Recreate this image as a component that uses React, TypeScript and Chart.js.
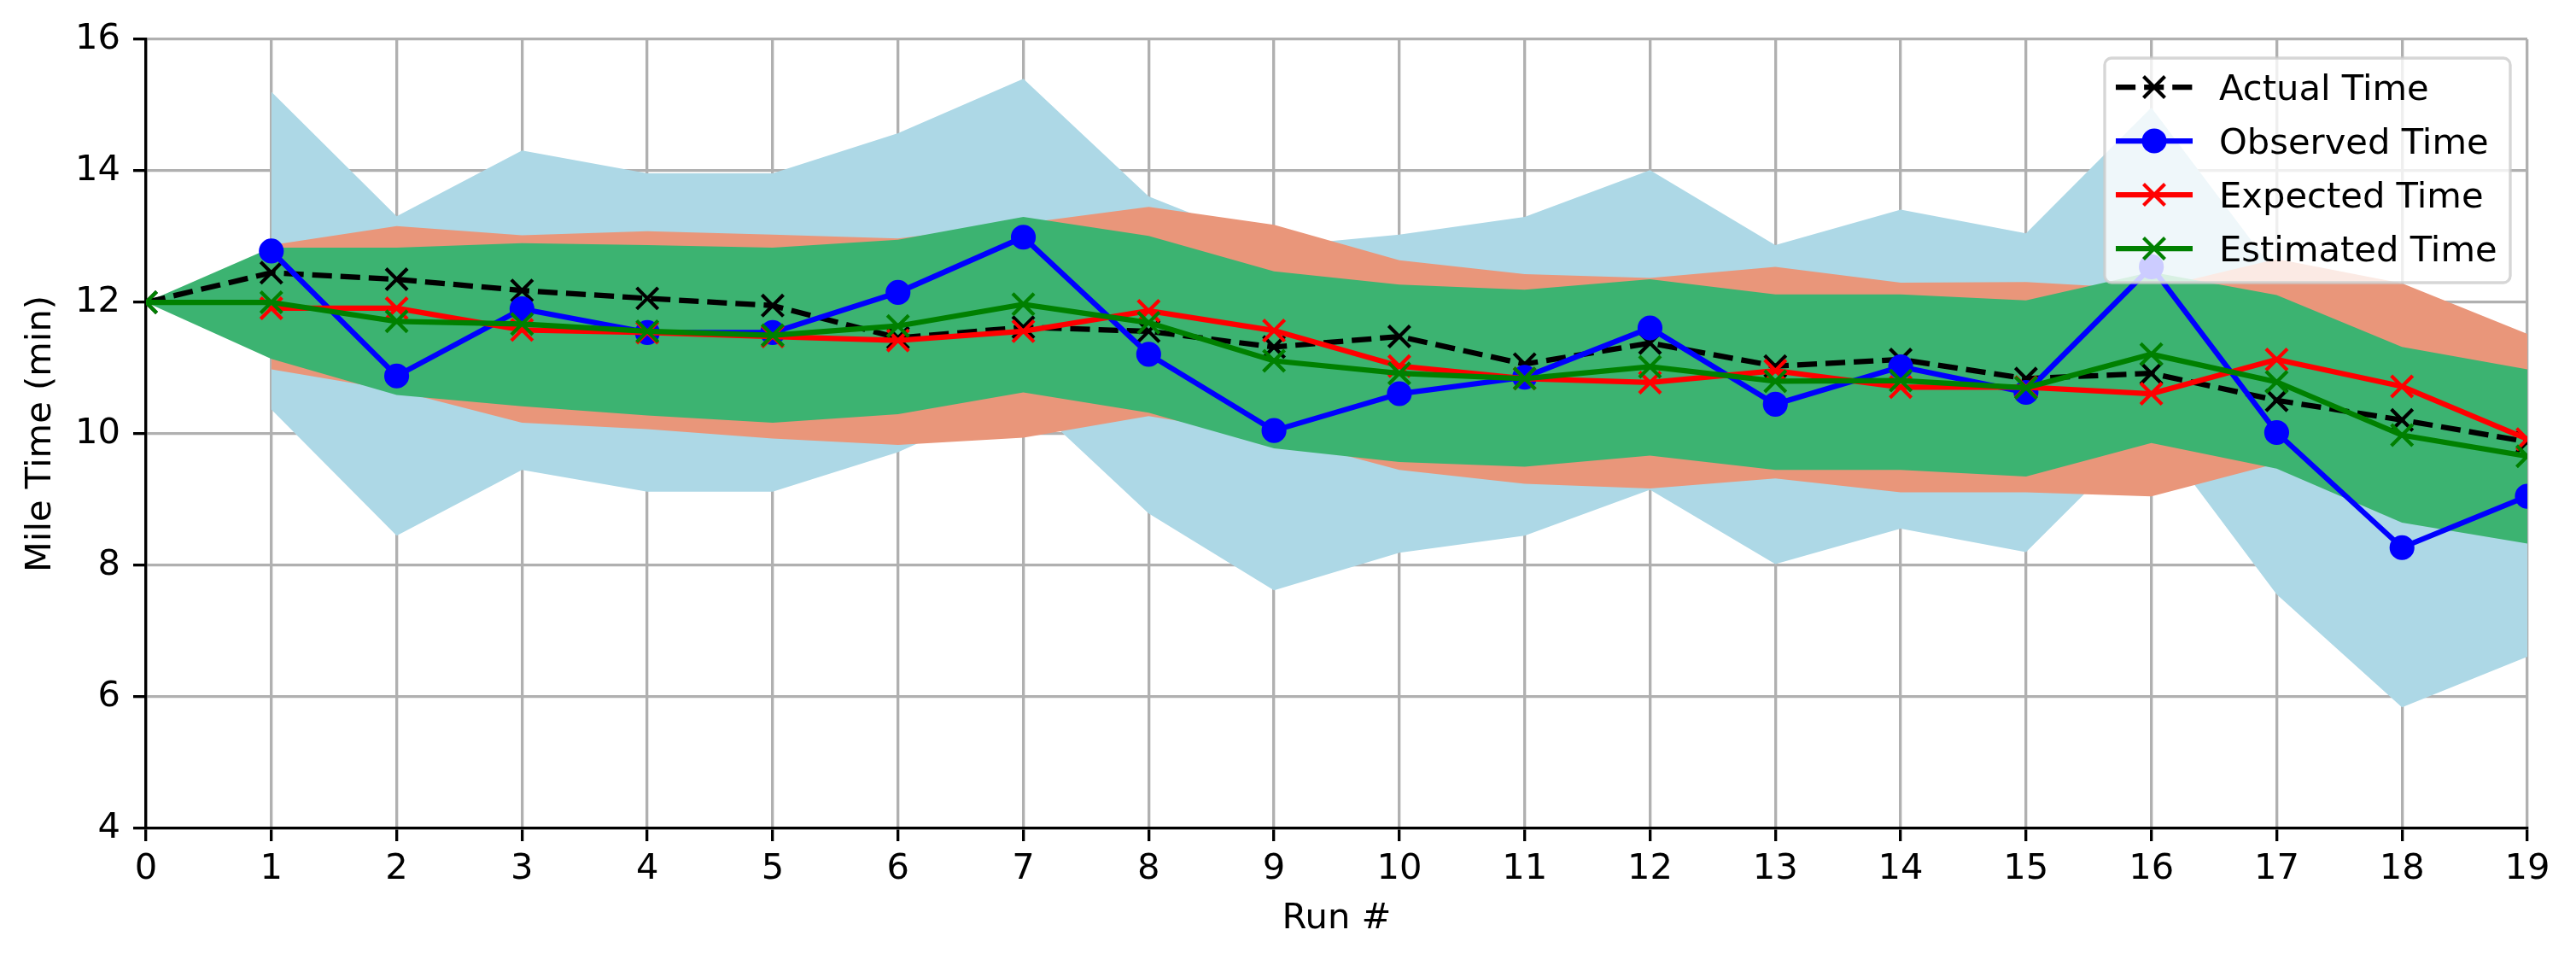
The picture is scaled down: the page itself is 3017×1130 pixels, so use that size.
import React, { useEffect, useRef } from 'react';
import { Chart, registerables } from 'chart.js';

Chart.register(...registerables);

const runs = [0, 1, 2, 3, 4, 5, 6, 7, 8, 9, 10, 11, 12, 13, 14, 15, 16, 17, 18, 19];
const xTicks = [0, 1, 2, 3, 4, 5, 6, 7, 8, 9, 10, 11, 12, 13, 14, 15, 16, 17, 18, 19];
const yTicks = [4, 6, 8, 10, 12, 14, 16];

const actualTime = [12.0, 12.45, 12.35, 12.18, 12.06, 11.95, 11.46, 11.62, 11.56, 11.32, 11.48, 11.06, 11.38, 11.03, 11.13, 10.84, 10.92, 10.51, 10.21, 9.88];
const observedTime = [null, 12.78, 10.88, 11.9, 11.54, 11.54, 12.15, 12.99, 11.21, 10.05, 10.61, 10.86, 11.61, 10.45, 11.02, 10.63, 12.54, 10.02, 8.27, 9.05];
const expectedTime = [null, 11.91, 11.91, 11.58, 11.54, 11.48, 11.42, 11.56, 11.87, 11.57, 11.03, 10.84, 10.78, 10.96, 10.71, 10.71, 10.61, 11.13, 10.72, 9.92];
const estimatedTime = [12.0, 12.0, 11.71, 11.67, 11.56, 11.5, 11.64, 11.97, 11.69, 11.11, 10.92, 10.84, 11.02, 10.8, 10.81, 10.7, 11.21, 10.79, 9.98, 9.66];

const observedUpper = [null, 15.2, 13.31, 14.31, 13.96, 13.96, 14.57, 15.4, 13.61, 12.85, 13.03, 13.3, 14.01, 12.87, 13.41, 13.05, 14.96, 12.43, 10.69, 11.46];
const observedLower = [null, 10.37, 8.45, 9.45, 9.12, 9.12, 9.72, 10.57, 8.79, 7.62, 8.19, 8.45, 9.15, 8.02, 8.56, 8.2, 10.1, 7.56, 5.84, 6.61];
const expectedUpper = [null, 12.87, 13.16, 13.02, 13.08, 13.03, 12.97, 13.2, 13.45, 13.18, 12.64, 12.43, 12.37, 12.54, 12.3, 12.31, 12.2, 12.66, 12.29, 11.52];
const expectedLower = [null, 10.98, 10.66, 10.17, 10.07, 9.93, 9.83, 9.94, 10.27, 9.96, 9.45, 9.24, 9.17, 9.32, 9.11, 9.11, 9.05, 9.55, 9.13, 8.4];
const estimatedUpper = [12.0, 12.83, 12.83, 12.9, 12.87, 12.83, 12.95, 13.3, 13.01, 12.47, 12.27, 12.19, 12.35, 12.12, 12.12, 12.03, 12.46, 12.11, 11.32, 10.98];
const estimatedLower = [12.0, 11.14, 10.59, 10.42, 10.28, 10.17, 10.3, 10.63, 10.32, 9.78, 9.57, 9.5, 9.67, 9.45, 9.45, 9.35, 9.86, 9.47, 8.65, 8.33];

const FONT = 'DejaVu Sans';
const PT = 300 / 72;
const FS = 10 * PT;
const LW = 1.5 * PT;

const pts = (vals: (number | null)[]) => runs.map((x, i) => ({ x, y: vals[i] }));

type LegendEntry = { label: string; color: string; dash: number[]; marker: 'x' | 'o' };
const legendEntries: LegendEntry[] = [
  { label: 'Actual Time', color: '#000000', dash: [3.7 * LW, 1.6 * LW], marker: 'x' },
  { label: 'Observed Time', color: '#0000ff', dash: [], marker: 'o' },
  { label: 'Expected Time', color: '#ff0000', dash: [], marker: 'x' },
  { label: 'Estimated Time', color: '#008000', dash: [], marker: 'x' },
];

const legendPlugin = {
  id: 'mplLegend',
  afterDraw(chart: any) {
    const ctx = chart.ctx as CanvasRenderingContext2D;
    const area = chart.chartArea;
    const x1 = area.right - 20;
    const y0 = area.top + 22;
    const w = 475;
    const h = 263;
    const x0 = x1 - w;
    const y1 = y0 + h;
    const r = 8;
    ctx.save();
    ctx.beginPath();
    ctx.moveTo(x0 + r, y0);
    ctx.lineTo(x1 - r, y0);
    ctx.arcTo(x1, y0, x1, y0 + r, r);
    ctx.lineTo(x1, y1 - r);
    ctx.arcTo(x1, y1, x1 - r, y1, r);
    ctx.lineTo(x0 + r, y1);
    ctx.arcTo(x0, y1, x0, y1 - r, r);
    ctx.lineTo(x0, y0 + r);
    ctx.arcTo(x0, y0, x0 + r, y0, r);
    ctx.closePath();
    ctx.fillStyle = 'rgba(255,255,255,0.8)';
    ctx.fill();
    ctx.strokeStyle = 'rgba(204,204,204,0.8)';
    ctx.lineWidth = 0.8 * PT;
    ctx.stroke();

    const hx0 = x0 + 13;
    const hx1 = hx0 + 90;
    const mx = (hx0 + hx1) / 2;
    legendEntries.forEach((e, i) => {
      const cy = y0 + 34 + i * 63;
      ctx.save();
      ctx.strokeStyle = e.color;
      ctx.lineWidth = LW;
      ctx.setLineDash(e.dash);
      ctx.lineCap = 'butt';
      ctx.beginPath();
      ctx.moveTo(hx0, cy);
      ctx.lineTo(hx1, cy);
      ctx.stroke();
      ctx.setLineDash([]);
      if (e.marker === 'x') {
        const s = 12.5;
        ctx.lineWidth = 1 * PT;
        ctx.beginPath();
        ctx.moveTo(mx - s, cy - s);
        ctx.lineTo(mx + s, cy + s);
        ctx.moveTo(mx - s, cy + s);
        ctx.lineTo(mx + s, cy - s);
        ctx.stroke();
      } else {
        ctx.fillStyle = e.color;
        ctx.beginPath();
        ctx.arc(mx, cy, 14.5, 0, Math.PI * 2);
        ctx.fill();
      }
      ctx.restore();
      ctx.fillStyle = '#000000';
      ctx.font = `${FS}px "${FONT}"`;
      ctx.textBaseline = 'alphabetic';
      ctx.textAlign = 'left';
      ctx.fillText(e.label, hx1 + 31, cy + 15);
    });
    ctx.restore();
  },
};

export default function App() {
  const ref = useRef<HTMLCanvasElement | null>(null);

  useEffect(() => {
    document.body.style.margin = '0';
    const canvas = ref.current;
    if (!canvas) return;

    const lineDs = (label: string, vals: (number | null)[], color: string, order: number, marker: 'x' | 'o', dash: number[]) => ({
      label,
      data: pts(vals),
      borderColor: color,
      backgroundColor: color,
      borderWidth: LW,
      borderDash: dash,
      pointStyle: marker === 'x' ? 'crossRot' : 'circle',
      pointRadius: marker === 'x' ? 17.7 : 12.5,
      pointBorderWidth: 1 * PT,
      pointBorderColor: color,
      pointBackgroundColor: color,
      fill: false,
      tension: 0,
      order,
      clip: 0,
    });
    const bandDs = (label: string, vals: (number | null)[], color: string, order: number, fill: any) => ({
      label,
      data: pts(vals),
      borderColor: 'rgba(0,0,0,0)',
      backgroundColor: color,
      borderWidth: 0,
      pointRadius: 0,
      pointHoverRadius: 0,
      fill,
      tension: 0,
      order,
      clip: 0,
    });

    const chart = new Chart(canvas, {
      type: 'line',
      data: {
        datasets: [
          lineDs('Actual Time', actualTime, '#000000', 3, 'x', [3.7 * LW, 1.6 * LW]),
          lineDs('Observed Time', observedTime, '#0000ff', 2, 'o', []),
          lineDs('Expected Time', expectedTime, '#ff0000', 1, 'x', []),
          lineDs('Estimated Time', estimatedTime, '#008000', 0, 'x', []),
          bandDs('estUpper', estimatedUpper, '#3cb371', 4, '+1'),
          bandDs('estLower', estimatedLower, '#3cb371', 4, false),
          bandDs('expUpper', expectedUpper, '#e9967a', 5, '+1'),
          bandDs('expLower', expectedLower, '#e9967a', 5, false),
          bandDs('obsUpper', observedUpper, '#add8e6', 6, '+1'),
          bandDs('obsLower', observedLower, '#add8e6', 6, false),
        ] as any,
      },
      options: {
        responsive: false,
        animation: false,
        devicePixelRatio: 1,
        events: [],
        layout: { padding: { left: 0, right: 57, top: 46, bottom: 0 } },
        plugins: {
          legend: { display: false },
          tooltip: { enabled: false },
        },
        scales: {
          x: {
            type: 'linear',
            min: 0,
            max: 19,
            afterFit: (s: any) => { s.height = 160; },
            afterBuildTicks: (s: any) => { s.ticks = xTicks.map((v) => ({ value: v })); },
            ticks: {
              autoSkip: false,
              maxRotation: 0,
              padding: 8,
              color: '#000000',
              font: { family: FONT, size: FS },
              callback: (v: any) => String(v),
            },
            grid: {
              color: '#b0b0b0',
              lineWidth: 0.8 * PT,
              tickColor: '#000000',
              tickWidth: 0.8 * PT,
              tickLength: 15,
            },
            border: { color: '#000000', width: 0.8 * PT },
            title: {
              display: true,
              text: 'Run #',
              color: '#000000',
              font: { family: FONT, size: FS },
              padding: { top: 0, bottom: 29 },
            },
          },
          y: {
            type: 'linear',
            min: 4,
            max: 16,
            afterFit: (s: any) => { s.width = 171; },
            afterBuildTicks: (s: any) => { s.ticks = yTicks.map((v) => ({ value: v })); },
            ticks: {
              padding: 15,
              color: '#000000',
              font: { family: FONT, size: FS },
              callback: (v: any) => String(v),
            },
            grid: {
              color: '#b0b0b0',
              lineWidth: 0.8 * PT,
              tickColor: '#000000',
              tickWidth: 0.8 * PT,
              tickLength: 15,
            },
            border: { color: '#000000', width: 0.8 * PT },
            title: {
              display: true,
              text: 'Mile Time (min)',
              color: '#000000',
              font: { family: FONT, size: FS },
              padding: { top: 23, bottom: 0 },
            },
          },
        },
      } as any,
      plugins: [legendPlugin],
    });

    return () => chart.destroy();
  }, []);

  return (
    <div style={{ width: 3017, height: 1130, background: '#ffffff' }}>
      <canvas ref={ref} width={3017} height={1130} style={{ display: 'block', width: 3017, height: 1130 }} />
    </div>
  );
}
